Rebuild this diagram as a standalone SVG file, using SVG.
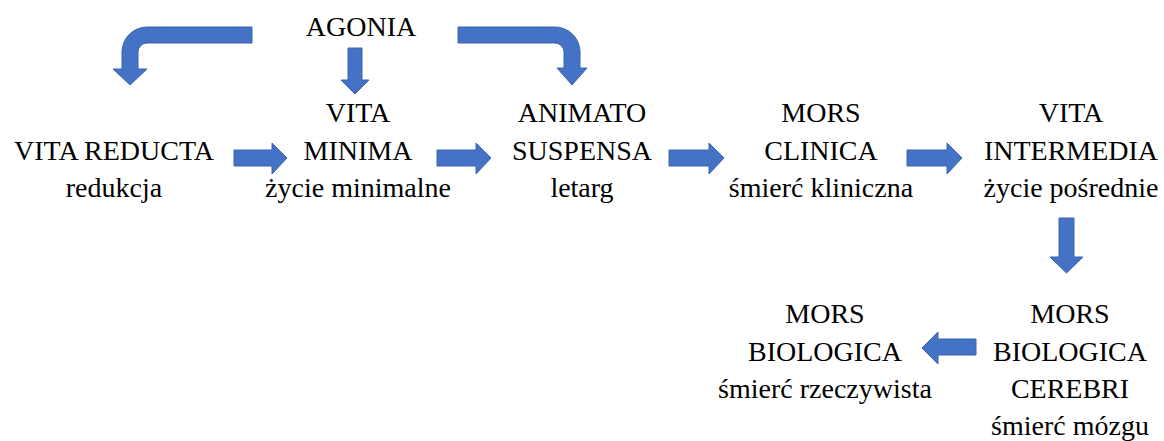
<svg xmlns="http://www.w3.org/2000/svg" width="1164" height="441" viewBox="0 0 1164 441">
<style>
.arr{fill:#4472C4;stroke:#3A64B0;stroke-width:1}
</style>
<rect width="1164" height="441" fill="#fff"/>
<g id="connectors">
<path class="arr" d="M252,27 L147,27 A25,25 0 0 0 122,52 L122,69 L113,69 L130,85 L147,69 L138,69 L138,52 A9,9 0 0 1 147,43 L252,43 Z"/>
<path class="arr" d="M348,48 L362,48 L362,80 L369,80 L355,94 L341,80 L348,80 Z"/>
<path class="arr" d="M458,27 L555,27 A25,25 0 0 1 580,52 L580,68 L587,68 L572,85 L557,68 L564,68 L564,52 A9,9 0 0 0 555,43 L458,43 Z"/>
<path class="arr" d="M234,150 L272,150 L272,143 L287,158 L272,174 L272,166 L234,166 Z"/>
<path class="arr" d="M437,150 L476,150 L476,143 L491,158 L476,174 L476,166 L437,166 Z"/>
<path class="arr" d="M669,150 L709,150 L709,143 L724,158 L709,174 L709,166 L669,166 Z"/>
<path class="arr" d="M907,150 L947,150 L947,143 L962,158 L947,174 L947,166 L907,166 Z"/>
<path class="arr" d="M1059,218 L1074,218 L1074,257 L1083,257 L1066.5,273 L1050,257 L1059,257 Z"/>
<path class="arr" d="M976,339 L938,339 L938,332 L922,348 L938,364 L938,355 L976,355 Z"/>
</g>
<g font-family="'Liberation Serif', 'Times New Roman', serif" font-size="28" fill="#000" text-anchor="middle">
<g id="agonia"><text x="361" y="36">AGONIA</text></g>
<g id="vita-reducta"><text x="114" y="160">VITA REDUCTA</text><text x="114" y="197">redukcja</text></g>
<g id="vita-minima"><text x="358" y="122">VITA</text><text x="358" y="160">MINIMA</text><text x="358" y="197">życie minimalne</text></g>
<g id="animato-suspensa"><text x="582" y="122">ANIMATO</text><text x="582" y="160">SUSPENSA</text><text x="582" y="197">letarg</text></g>
<g id="mors-clinica"><text x="821" y="122">MORS</text><text x="821" y="160">CLINICA</text><text x="821" y="197">śmierć kliniczna</text></g>
<g id="vita-intermedia"><text x="1071" y="122">VITA</text><text x="1071" y="160">INTERMEDIA</text><text x="1071" y="197">życie pośrednie</text></g>
<g id="mors-biologica-cerebri"><text x="1070" y="323">MORS</text><text x="1070" y="361">BIOLOGICA</text><text x="1070" y="398">CEREBRI</text><text x="1070" y="435">śmierć mózgu</text></g>
<g id="mors-biologica"><text x="825" y="323">MORS</text><text x="825" y="361">BIOLOGICA</text><text x="825" y="398">śmierć rzeczywista</text></g>
</g>
</svg>
